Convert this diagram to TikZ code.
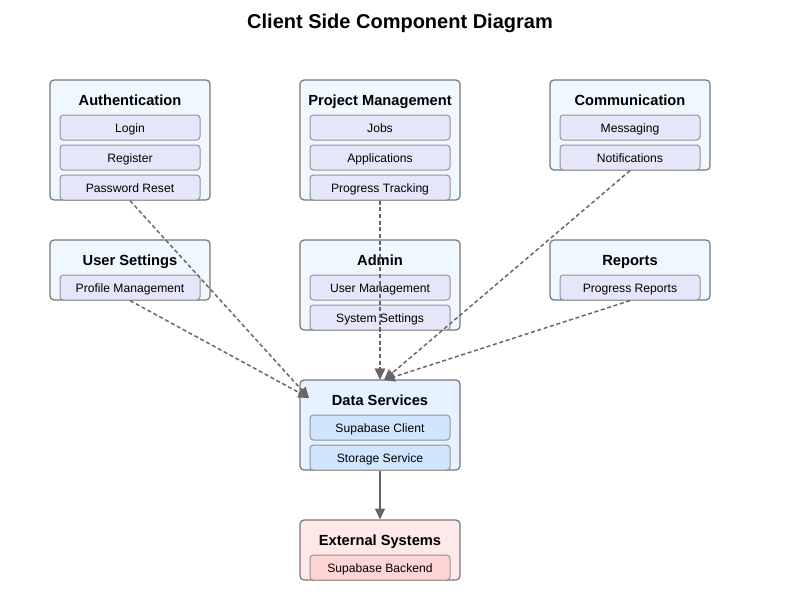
\documentclass[tikz,border=0pt]{standalone}
\usepackage{fontspec}
\setmainfont{Liberation Sans}
\usetikzlibrary{arrows.meta}
\definecolor{grpfill}{HTML}{F0F8FF}
\definecolor{itmfill}{HTML}{E6E6FA}
\definecolor{dsfill}{HTML}{E6F2FF}
\definecolor{dsitm}{HTML}{D0E6FF}
\definecolor{exfill}{HTML}{FFE8E8}
\definecolor{exitm}{HTML}{FFD4D4}
\definecolor{edge}{HTML}{666666}
\definecolor{bord}{HTML}{777777}
\tikzset{
  grp/.style={draw=bord, line width=0.9pt, fill=grpfill, rounded corners=3pt, minimum width=120pt, inner sep=0pt},
  itm/.style={draw=bord!80, line width=0.75pt, fill=itmfill, rounded corners=2.5pt, minimum width=105pt, minimum height=18.75pt, inner sep=0pt, text height=9.6pt, text depth=1.9pt, font=\fontsize{9.1pt}{10pt}\selectfont},
  ttl/.style={font=\fontsize{11pt}{13pt}\selectfont\bfseries, inner sep=0pt, text height=11pt, text depth=2.3pt},
  dep/.style={draw=edge, line width=1.1pt, dash pattern=on 3pt off 2pt, -{Triangle[length=8pt,width=7.5pt]}},
  flow/.style={draw=edge, line width=1.1pt, -{Triangle[length=8pt,width=7.5pt]}},
}
\begin{document}
\begin{tikzpicture}[x=0.75pt,y=-0.75pt]
\useasboundingbox (0,0) rectangle (800,600);
\node[font=\fontsize{15pt}{18pt}\selectfont\bfseries, inner sep=0pt, text height=13pt, text depth=3pt] (title) at (400,22) {Client Side Component Diagram};

% Authentication
\node[grp, minimum height=90pt] (auth) at (130,140) {};
\node[ttl] (authT) at (130,100) {Authentication};
\node[itm] (login) at (130,127.5) {Login};
\node[itm] (reg) at (130,157.5) {Register};
\node[itm] (pwd) at (130,187.5) {Password Reset};

% Project Management
\node[grp, minimum height=90pt] (pm) at (380,140) {};
\node[ttl] (pmT) at (380,100) {Project Management};
\node[itm] (jobs) at (380,127.5) {Jobs};
\node[itm] (apps) at (380,157.5) {Applications};
\node[itm] (prog) at (380,187.5) {Progress Tracking};

% Communication
\node[grp, minimum height=67.5pt] (comm) at (630,125) {};
\node[ttl] (commT) at (630,100) {Communication};
\node[itm] (msg) at (630,127.5) {Messaging};
\node[itm] (notif) at (630,157.5) {Notifications};

% User Settings
\node[grp, minimum height=45pt] (us) at (130,270) {};
\node[ttl] (usT) at (130,260) {User Settings};
\node[itm] (prof) at (130,287.5) {Profile Management};

% Admin
\node[grp, minimum height=67.5pt] (adm) at (380,285) {};
\node[ttl] (admT) at (380,260) {Admin};
\node[itm] (um) at (380,287.5) {User Management};
\node[itm] (ss) at (380,317.5) {System Settings};

% Reports
\node[grp, minimum height=45pt] (rep) at (630,270) {};
\node[ttl] (repT) at (630,260) {Reports};
\node[itm] (pr) at (630,287.5) {Progress Reports};

% Data Services
\node[grp, fill=dsfill, minimum height=67.5pt] (ds) at (380,425) {};
\node[ttl] (dsT) at (380,400) {Data Services};
\node[itm, fill=dsitm] (sc) at (380,427.5) {Supabase Client};
\node[itm, fill=dsitm] (st) at (380,457.5) {Storage Service};

% External Systems
\node[grp, fill=exfill, minimum height=45pt] (ext) at (380,550) {};
\node[ttl] (extT) at (380,540) {External Systems};
\node[itm, fill=exitm] (sb) at (380,567.5) {Supabase Backend};

\coordinate (dsL) at (309,398);
\coordinate (dsR) at (384,380);

\draw[dep] (auth.south) -- (dsL);
\draw[dep] (us.south) -- (dsL);
\draw[dep] (pm.south) -- (ds.north);
\draw[dep, dash phase=2.5pt] (adm.south) -- (ds.north);
\draw[dep] (comm.south) -- (dsR);
\draw[dep] (rep.south) -- (dsR);
\draw[flow] (ds.south) -- (ext.north);
\end{tikzpicture}
\end{document}
